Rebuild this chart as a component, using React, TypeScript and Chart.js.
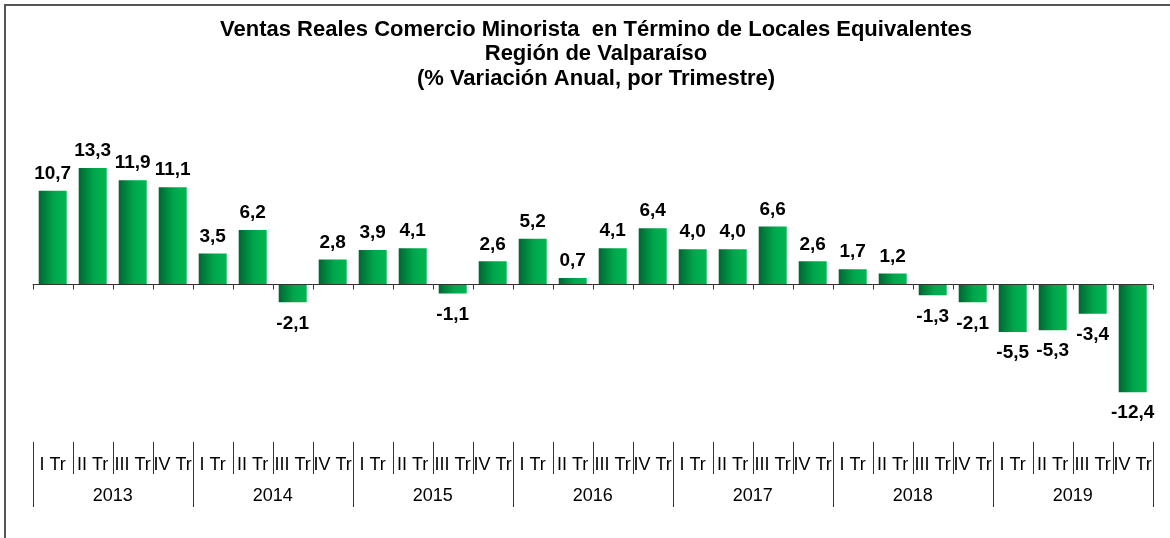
import React, { useEffect, useRef } from "react";
import { Chart, registerables } from "chart.js";

Chart.register(...registerables);

const TITLE_LINES = [
  "Ventas Reales Comercio Minorista  en Término de Locales Equivalentes",
  "Región de Valparaíso",
  "(% Variación Anual, por Trimestre)",
];
const YEARS = ["2013", "2014", "2015", "2016", "2017", "2018", "2019"];
const QUARTERS = ["I Tr", "II Tr", "III Tr", "IV Tr"];
const VALUES = [
  10.7, 13.3, 11.9, 11.1,
  3.5, 6.2, -2.1, 2.8,
  3.9, 4.1, -1.1, 2.6,
  5.2, 0.7, 4.1, 6.4,
  4.0, 4.0, 6.6, 2.6,
  1.7, 1.2, -1.3, -2.1,
  -5.5, -5.3, -3.4, -12.4,
];
const CATEGORIES = YEARS.flatMap((y) => QUARTERS.map((q) => `${q} ${y}`));

const FONT = '"Liberation Sans", Arial, sans-serif';
const BAR_FRACTION = 0.7;

const fmt = (v: number) => v.toFixed(1).replace(".", ",");

const barGradient = (c: any) => {
  const chart = c.chart;
  const area = chart.chartArea;
  if (!area || c.dataIndex === undefined) return "#00a94c";
  const step = (area.right - area.left) / VALUES.length;
  const cx = area.left + (c.dataIndex + 0.5) * step;
  const hw = (step * BAR_FRACTION) / 2;
  const g = chart.ctx.createLinearGradient(cx - hw, 0, cx + hw, 0);
  g.addColorStop(0, "#006633");
  g.addColorStop(0.55, "#00a84c");
  g.addColorStop(1, "#00b552");
  return g;
};

const decorPlugin = {
  id: "decor",
  beforeDraw(chart: any) {
    const ctx = chart.ctx;
    ctx.save();
    ctx.fillStyle = "#ffffff";
    ctx.fillRect(0, 0, chart.width, chart.height);
    ctx.restore();
  },
  afterDraw(chart: any) {
    const ctx = chart.ctx;
    const x = chart.scales.x;
    const y = chart.scales.y;
    const area = chart.chartArea;
    const n = VALUES.length;
    const step = (area.right - area.left) / n;
    const y0 = Math.round(y.getPixelForValue(0)) + 0.5;

    ctx.save();
    // border
    ctx.strokeStyle = "#555555";
    ctx.lineWidth = 2;
    ctx.strokeRect(5, 5, chart.width + 20, chart.height + 20);

    // title
    ctx.fillStyle = "#000000";
    ctx.font = `bold 22px ${FONT}`;
    ctx.textAlign = "center";
    ctx.textBaseline = "middle";
    TITLE_LINES.forEach((line, i) => {
      ctx.fillText(line, 596, 29.5 + i * 24.5);
    });

    // zero axis line with ticks
    ctx.strokeStyle = "#333333";
    ctx.lineWidth = 1;
    ctx.beginPath();
    ctx.moveTo(area.left, y0);
    ctx.lineTo(area.right, y0);
    for (let i = 0; i <= n; i++) {
      const bx = Math.round(area.left + i * step) + 0.5;
      ctx.moveTo(bx, y0);
      ctx.lineTo(bx, y0 + 5);
    }
    ctx.stroke();

    // data labels
    ctx.font = `bold 19px ${FONT}`;
    ctx.fillStyle = "#000000";
    const meta = chart.getDatasetMeta(0);
    meta.data.forEach((el: any, i: number) => {
      const v = VALUES[i];
      const ly = v >= 0 ? el.y - 17 : el.y + 21;
      ctx.fillText(fmt(v), el.x, ly);
    });

    // category separators
    ctx.strokeStyle = "#333333";
    ctx.beginPath();
    for (let i = 0; i <= n; i++) {
      const bx = Math.round(area.left + i * step) + 0.5;
      const bottom = i % 4 === 0 ? 507 : 474;
      ctx.moveTo(bx, 442);
      ctx.lineTo(bx, bottom);
    }
    ctx.stroke();

    // quarter labels
    ctx.font = `18px ${FONT}`;
    ctx.fillStyle = "#000000";
    CATEGORIES.forEach((_, i) => {
      const cx = x.getPixelForValue(i);
      ctx.fillText(QUARTERS[i % 4], cx, 465);
    });
    // year labels
    YEARS.forEach((yr, k) => {
      const cx = area.left + (k * 4 + 2) * step;
      ctx.fillText(yr, cx, 496);
    });
    ctx.restore();
  },
};

export default function App() {
  const ref = useRef<HTMLCanvasElement | null>(null);
  useEffect(() => {
    if (!ref.current) return;
    const chart = new Chart(ref.current, {
      type: "bar",
      data: {
        labels: CATEGORIES,
        datasets: [
          {
            data: VALUES,
            backgroundColor: barGradient,
            borderWidth: 0,
            categoryPercentage: 1,
            barPercentage: BAR_FRACTION,
          },
        ],
      },
      options: {
        responsive: false,
        animation: false,
        devicePixelRatio: 1,
        layout: {
          padding: { left: 32.7, right: 17.3, top: 144.5, bottom: 123.2 },
        },
        scales: {
          x: { display: false, offset: true, grid: { display: false } },
          y: { display: false, min: -15, max: 16 },
        },
        plugins: {
          legend: { display: false },
          title: { display: false },
          tooltip: { enabled: false },
        },
      },
      plugins: [decorPlugin],
    });
    return () => chart.destroy();
  }, []);
  return (
    <div style={{ position: "fixed", left: 0, top: 0, width: 1170, height: 538, background: "#fff" }}>
      <canvas ref={ref} width={1170} height={538} style={{ display: "block" }} />
    </div>
  );
}
